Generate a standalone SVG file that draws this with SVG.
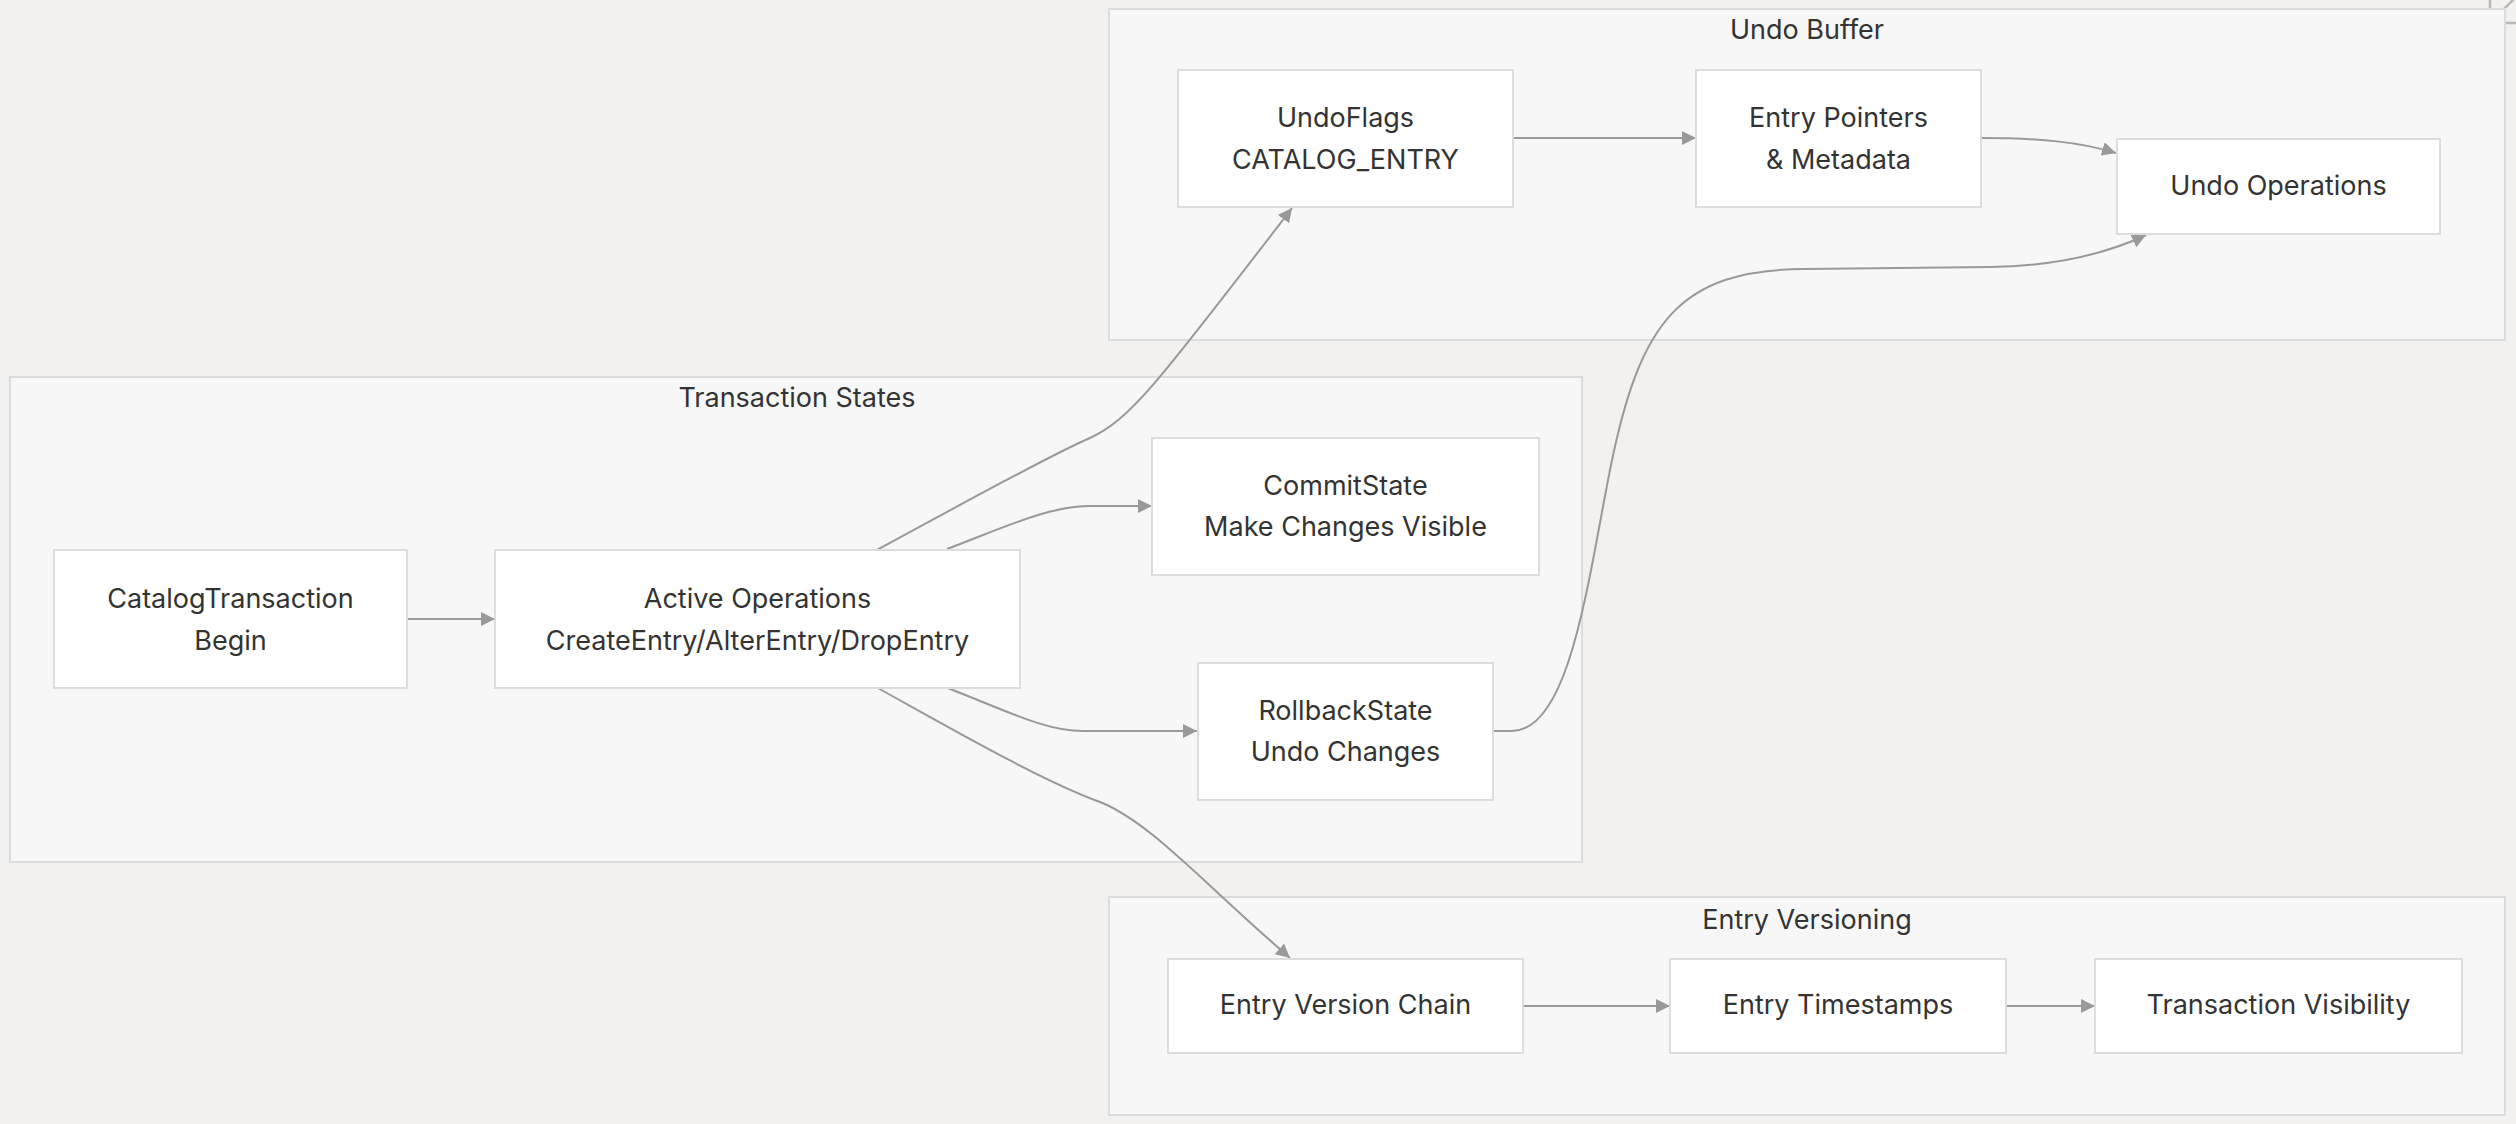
<svg xmlns="http://www.w3.org/2000/svg" width="2516" height="1124" viewBox="0 0 2516 1124">
<defs>
<marker id="arr" markerUnits="userSpaceOnUse" markerWidth="14" markerHeight="14" refX="14" refY="7" orient="auto">
<path d="M0,0 L14,7 L0,14 z" fill="#999999"/>
</marker>
<style>
.cluster rect{fill:#f7f7f7;stroke:#dcdcdc;stroke-width:2}
.node rect{fill:#ffffff;stroke:#dddddd;stroke-width:2}
text{font-family:Inter,"Noto Sans","Liberation Sans",sans-serif;font-size:27px;fill:#333333;text-anchor:middle;dominant-baseline:central}
.edges path{fill:none;stroke:#999999;stroke-width:2;marker-end:url(#arr)}
</style>
</defs>
<rect x="0" y="0" width="2516" height="1124" fill="#f2f1ef"/>
<g fill="none" stroke="#b8b8b8" stroke-width="2.5">
<path d="M2490,-10 L2490,8 Q2490,23 2505,23 L2530,23"/>
<path d="M2503,10 L2518,-5"/>
</g>
<g id="cluster-undo" class="cluster"><rect x="1109" y="9" width="1396" height="331"/><text x="1807" y="29">Undo Buffer</text></g>
<g id="cluster-tx" class="cluster"><rect x="10" y="377" width="1572" height="485"/><text x="797" y="397">Transaction States</text></g>
<g id="cluster-ver" class="cluster"><rect x="1109" y="897" width="1396" height="218"/><text x="1807" y="919">Entry Versioning</text></g>
<g class="edges" id="connectors">
<path d="M407,619 L495,619"/>
<path d="M877,550 C960,505 1050,455 1090,438 C1130,420 1160,380 1292,208"/>
<path d="M947,549 C1010,525 1050,506 1090,506 L1152,506"/>
<path d="M945,687 C1010,712 1045,731 1083,731 L1197,731"/>
<path d="M876,687 C950,728 1040,780 1100,802 C1150,822 1200,880 1290,958"/>
<path d="M1513,138 L1696,138"/>
<path d="M1981,138 C2040,138 2080,142 2116,153"/>
<path d="M1493,731 L1512,731 C1570,731 1588,580 1610,470 C1640,320 1680,270 1805,269 L1990,267 C2060,266 2110,252 2146,235"/>
<path d="M1523,1006 L1670,1006"/>
<path d="M2006,1006 L2095,1006"/>
</g>
<g id="n-catalog" class="node"><rect x="54" y="550" width="353" height="138"/><text x="230.5" y="598">CatalogTransaction</text><text x="230.5" y="640">Begin</text></g>
<g id="n-active" class="node"><rect x="495" y="550" width="525" height="138"/><text x="757.5" y="598">Active Operations</text><text x="757.5" y="640">CreateEntry/AlterEntry/DropEntry</text></g>
<g id="n-commit" class="node"><rect x="1152" y="438" width="387" height="137"/><text x="1345.5" y="485">CommitState</text><text x="1345.5" y="526">Make Changes Visible</text></g>
<g id="n-rollback" class="node"><rect x="1198" y="663" width="295" height="137"/><text x="1345.5" y="710">RollbackState</text><text x="1345.5" y="751">Undo Changes</text></g>
<g id="n-undoflags" class="node"><rect x="1178" y="70" width="335" height="137"/><text x="1345.5" y="117">UndoFlags</text><text x="1345.5" y="159">CATALOG_ENTRY</text></g>
<g id="n-pointers" class="node"><rect x="1696" y="70" width="285" height="137"/><text x="1838.5" y="117">Entry Pointers</text><text x="1838.5" y="159">&amp; Metadata</text></g>
<g id="n-undoops" class="node"><rect x="2117" y="139" width="323" height="95"/><text x="2278.5" y="185">Undo Operations</text></g>
<g id="n-chain" class="node"><rect x="1168" y="959" width="355" height="94"/><text x="1345.5" y="1004.5">Entry Version Chain</text></g>
<g id="n-timestamps" class="node"><rect x="1670" y="959" width="336" height="94"/><text x="1838" y="1004.5">Entry Timestamps</text></g>
<g id="n-visibility" class="node"><rect x="2095" y="959" width="367" height="94"/><text x="2278.5" y="1004.5">Transaction Visibility</text></g>
</svg>
